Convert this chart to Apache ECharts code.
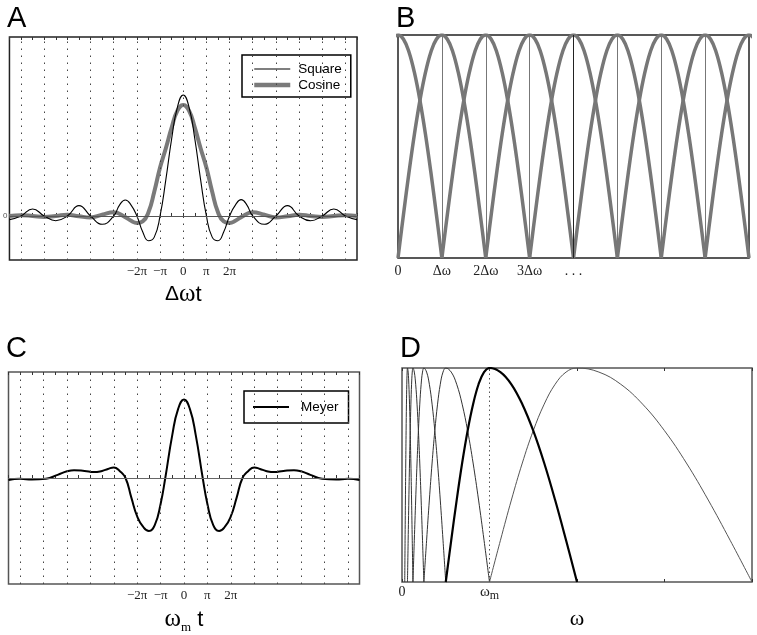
<!DOCTYPE html>
<html>
<head>
<meta charset="utf-8">
<script src="https://cdn.jsdelivr.net/npm/echarts@6/dist/echarts.min.js"></script>
<style>
  html, body { margin: 0; padding: 0; background: #fff; }
  #chart { width: 757px; height: 635px; }
</style>
</head>
<body>
<div id="chart"></div>
<script>
// Panel A (x in units of pi)
const squareX = [-7.5,-7,-6.5,-6,-5.5,-5,-4.5,-4,-3.5,-3,-2.75,-2.5,-2.25,-2,-1.75,-1.5,-1.25,-1,-0.75,-0.5,-0.25,0,0.25,0.5,0.75,1,1.25,1.5,1.75,2,2.25,2.5,2.75,3,3.5,4,4.5,5,5.5,6,6.5,7,7.5]
const squareY = [-0.03,0,0.058,0,-0.039,0,0.085,0,-0.069,0,0.09,0.132,0.09,0,-0.13,-0.205,-0.175,0,0.3,0.637,0.9,1,0.9,0.637,0.3,0,-0.175,-0.205,-0.13,0,0.09,0.135,0.09,0,-0.069,0,0.085,0,-0.04,0,0.058,0,-0.03]
const cosineX = [-7.5,-7,-6.5,-6,-5.5,-5,-4.5,-4,-3.5,-3,-2.5,-2.25,-2,-1.75,-1.5,-1.25,-1,-0.75,-0.5,-0.25,0,0.25,0.5,0.75,1,1.25,1.5,1.75,2,2.25,2.5,3,3.5,4,4.5,5,5.5,6,6.5,7,7.5]
const cosineY = [0,0.006,0,-0.008,0,0.01,-0.003,-0.012,0.01,0.03,-0.01,-0.04,-0.058,-0.045,0.03,0.2,0.4,0.56,0.73,0.87,0.917,0.87,0.73,0.56,0.4,0.2,0.03,-0.045,-0.058,-0.04,-0.01,0.03,0.01,-0.012,-0.003,0.01,0,-0.008,0,0.006,0]
const piGridLines = [-7,-6,-5,-4,-3,-2,-1,0,1,2,3,4,5,6,7]
const piTickLabels = { '-2': '−2π', '-1': '−π', '0': '0', '1': 'π', '2': '2π' }

// Panel B
const arcOffsets = [-1,-0.875,-0.75,-0.625,-0.5,-0.375,-0.25,-0.125,0,0.125,0.25,0.375,0.5,0.625,0.75,0.875,1]
const arcValues = [0,0.195,0.383,0.556,0.707,0.831,0.924,0.981,1,0.981,0.924,0.831,0.707,0.556,0.383,0.195,0]
const arcCenters = [0,1,2,3,4,5,6,7,8]
const bDividers = [1,2,3,4,5,6,7]
const bTickLabels = ['0','Δω','2Δω','3Δω','. . .','','','','']

// Panel C
const meyerX = [-7.5,-7,-6.5,-5.9,-5.4,-5,-4.7,-4.25,-3.85,-3.5,-3.25,-3,-2.75,-2.5,-2.25,-2,-1.75,-1.5,-1.25,-1,-0.8,-0.5,-0.25,0,0.25,0.5,0.8,1,1.25,1.5,1.75,2,2.25,2.5,2.75,3,3.25,3.5,3.85,4.25,4.7,5,5.4,5.9,6.5,7,7.5]
const meyerY = [-0.025,-0.01,-0.02,-0.01,0.04,0.085,0.1,0.09,0.075,0.09,0.115,0.135,0.09,0,-0.25,-0.49,-0.62,-0.675,-0.6,-0.33,0,0.55,0.88,1,0.88,0.55,0,-0.33,-0.6,-0.675,-0.62,-0.49,-0.25,0,0.09,0.135,0.115,0.09,0.075,0.09,0.1,0.085,0.04,-0.01,-0.02,-0.01,-0.025]

// Panel D (x in units of omega_m)
const humpRatios = [1,1.125,1.25,1.375,1.5,1.625,1.75,1.875,2,2.25,2.5,2.75,3,3.25,3.5,3.75,4]
const humpValues = [0,0.195,0.383,0.556,0.707,0.831,0.924,0.981,1,0.981,0.924,0.831,0.707,0.556,0.383,0.195,0]
const humpStarts = [0.03125,0.0625,0.125,0.25,0.5,1]

const serif = 'Liberation Serif'
const sans = 'Liberation Sans'

const zip = (xs, ys) => xs.map((x, i) => [x, ys[i]])

const dotted = { type: [1.5, 5.5], color: '#444', width: 1 }

function piAxes(gridIndex, name) {
  const base = {
    type: 'value', gridIndex: gridIndex, min: -7.5, max: 7.5, interval: 0.5,
    axisLine: { show: false }, splitLine: { show: false },
    axisTick: { show: true, inside: true, length: 3, lineStyle: { color: '#333' } }
  }
  return [
    Object.assign({}, base, {
      position: 'bottom',
      axisLabel: {
        margin: 5, fontFamily: serif, fontSize: 13, color: '#222',
        formatter: v => piTickLabels[String(v)] || ''
      },
      name: name.text, nameLocation: 'middle', nameGap: name.gap,
      nameTextStyle: { color: '#000', rich: name.rich }
    }),
    Object.assign({}, base, { position: 'top', axisLabel: { show: false } })
  ]
}

let myChart = echarts.init(document.getElementById('chart'))

const aAxes = piAxes(0, {
  text: '{d|Δ}{w|ω}{t|t}', gap: 22,
  rich: {
    d: { fontFamily: sans, fontSize: 21, color: '#000' },
    w: { fontFamily: serif, fontSize: 25, color: '#000' },
    t: { fontFamily: sans, fontSize: 22, color: '#000' }
  }
})
const cAxes = piAxes(2, {
  text: '{w|ω}{s|m}{t| t}', gap: 21,
  rich: {
    w: { fontFamily: serif, fontSize: 25, color: '#000' },
    s: { fontFamily: serif, fontSize: 13, color: '#000', padding: [16, 0, 0, 0] },
    t: { fontFamily: sans, fontSize: 22, color: '#000' }
  }
})

const series = []

series.push({
  name: 'Square', type: 'line', xAxisIndex: 0, yAxisIndex: 0,
  data: zip(squareX, squareY), smooth: 0.5, symbol: 'none', z: 4,
  lineStyle: { color: '#000', width: 1.1 }, itemStyle: { color: '#000' },
  markLine: {
    silent: true, symbol: 'none', label: { show: false }, animation: false,
    data: piGridLines.map(x => ({ xAxis: x, lineStyle: dotted }))
      .concat([{ yAxis: 0, lineStyle: { type: 'solid', color: '#555', width: 1 } }])
  }
})
series.push({
  name: 'Cosine', type: 'line', xAxisIndex: 0, yAxisIndex: 0,
  data: zip(cosineX, cosineY), smooth: 0.5, symbol: 'none', z: 3,
  lineStyle: { color: '#7a7a7a', width: 4 }, itemStyle: { color: '#7a7a7a' }
})

arcCenters.forEach(c => {
  series.push({
    type: 'line', xAxisIndex: 2, yAxisIndex: 1, smooth: 0.4, symbol: 'none',
    data: arcOffsets.map((o, i) => [c + o, arcValues[i]]),
    lineStyle: { color: '#777', width: 3.5 }
  })
})
series.push({
  type: 'line', xAxisIndex: 2, yAxisIndex: 1, data: [], symbol: 'none',
  markLine: {
    silent: true, symbol: 'none', label: { show: false }, animation: false,
    data: bDividers.map(x => ({ xAxis: x, lineStyle: { type: 'solid', color: x === 4 ? '#222' : '#777', width: 1 } }))
  }
})

series.push({
  name: 'Meyer', type: 'line', xAxisIndex: 3, yAxisIndex: 2,
  data: zip(meyerX, meyerY), smooth: 0.5, symbol: 'none', z: 4,
  lineStyle: { color: '#000', width: 2 }, itemStyle: { color: '#000' },
  markLine: {
    silent: true, symbol: 'none', label: { show: false }, animation: false,
    data: piGridLines.map(x => ({ xAxis: x, lineStyle: dotted }))
      .concat([{ yAxis: 0, lineStyle: { type: 'solid', color: '#666', width: 1 } }])
  }
})

humpStarts.forEach(a => {
  const bold = a === 0.5
  series.push({
    type: 'line', xAxisIndex: 5, yAxisIndex: 3, smooth: 0.4, symbol: 'none', z: bold ? 4 : 3,
    data: humpRatios.map((r, i) => [a * r, humpValues[i]]),
    lineStyle: { color: bold ? '#000' : (a === 1 ? '#555' : '#333'), width: bold ? 2.2 : 1 }
  })
})
series.push({
  type: 'line', xAxisIndex: 5, yAxisIndex: 3, data: [], symbol: 'none',
  markLine: {
    silent: true, symbol: 'none', label: { show: false }, animation: false,
    data: [{ xAxis: 1, lineStyle: { type: [1.5, 3], color: '#555', width: 1 } }]
  }
})

const letterStyle = { fontFamily: sans, fontSize: 29, fontWeight: 'normal', color: '#000' }
const legendBase = {
  orient: 'vertical', itemWidth: 36, itemHeight: 14,
  backgroundColor: '#fff', borderColor: '#000', borderWidth: 1.5,
  itemStyle: { opacity: 0 }
}

myChart.setOption({
  animation: false,
  backgroundColor: '#fff',
  title: [
    { text: 'A', left: 7, top: 4, padding: 0, textStyle: letterStyle },
    { text: 'B', left: 396, top: 4, padding: 0, textStyle: letterStyle },
    { text: 'C', left: 6, top: 334, padding: 0, textStyle: letterStyle },
    { text: 'D', left: 400, top: 334, padding: 0, textStyle: letterStyle }
  ],
  legend: [
    Object.assign({}, legendBase, {
      data: [
        { name: 'Square', lineStyle: { color: '#000', width: 1.2 } },
        { name: 'Cosine', lineStyle: { color: '#7a7a7a', width: 4.5 } }
      ],
      left: 242, top: 55, itemGap: 2, padding: [7, 9, 5, 10],
      textStyle: { fontFamily: sans, fontSize: 13.5, color: '#000', padding: [0, 0, 0, 3] }
    }),
    Object.assign({}, legendBase, {
      data: [{ name: 'Meyer', lineStyle: { color: '#000', width: 2 } }],
      left: 244, top: 391, padding: [9, 10, 9, 8],
      textStyle: { fontFamily: sans, fontSize: 13.5, color: '#000', padding: [0, 0, 0, 7] }
    })
  ],
  grid: [
    { left: 9, top: 37, width: 348, height: 223, show: true, borderColor: '#222', borderWidth: 1.5, backgroundColor: 'transparent' },
    { left: 398, top: 35, width: 351, height: 223, show: true, borderColor: '#222', borderWidth: 1.5, backgroundColor: 'transparent' },
    { left: 8.5, top: 372, width: 351, height: 216, show: true, borderColor: '#555', borderWidth: 1.5, backgroundColor: 'transparent' },
    { left: 402, top: 368, width: 350, height: 214, show: true, borderColor: '#555', borderWidth: 1.5, backgroundColor: 'transparent' }
  ],
  xAxis: [
    aAxes[0], aAxes[1],
    {
      type: 'value', gridIndex: 1, min: 0, max: 8, interval: 1,
      axisLine: { show: false }, splitLine: { show: false }, axisTick: { show: false },
      axisLabel: { margin: 6, fontFamily: serif, fontSize: 14, color: '#222', formatter: v => bTickLabels[v] || '' }
    },
    cAxes[0], cAxes[1],
    {
      type: 'value', gridIndex: 3, min: 0, max: 4, interval: 1,
      axisLine: { show: false }, splitLine: { show: false },
      axisTick: { show: true, inside: true, length: 3, lineStyle: { color: '#333' } },
      axisLabel: {
        margin: 1, color: '#222',
        formatter: v => v === 0 ? '{z|0}' : (v === 1 ? '{w|ω}{s|m}' : ''),
        rich: {
          z: { fontFamily: serif, fontSize: 14, color: '#222', padding: [2, 0, 0, 0] },
          w: { fontFamily: serif, fontSize: 15, color: '#222' },
          s: { fontFamily: serif, fontSize: 12, color: '#222', padding: [7, 0, 0, 0] }
        }
      },
      name: 'ω', nameLocation: 'middle', nameGap: 26,
      nameTextStyle: { fontFamily: serif, fontSize: 22, color: '#000' }
    },
    {
      type: 'value', gridIndex: 3, min: 0, max: 4, interval: 1, position: 'top',
      axisLine: { show: false }, splitLine: { show: false }, axisLabel: { show: false },
      axisTick: { show: true, inside: true, length: 3, lineStyle: { color: '#333' } }
    }
  ],
  yAxis: [
    {
      type: 'value', gridIndex: 0, min: -0.364, max: 1.479,
      axisLine: { show: false }, splitLine: { show: false }, axisTick: { show: false },
      axisLabel: { margin: 2, fontFamily: sans, fontSize: 8, color: '#555', formatter: v => v === 0 ? '0' : '' }
    },
    { type: 'value', gridIndex: 1, min: 0, max: 1, show: false },
    { type: 'value', gridIndex: 2, min: -1.35, max: 1.35, show: false },
    { type: 'value', gridIndex: 3, min: 0, max: 1, show: false }
  ],
  series: series
})
</script>
</body>
</html>
